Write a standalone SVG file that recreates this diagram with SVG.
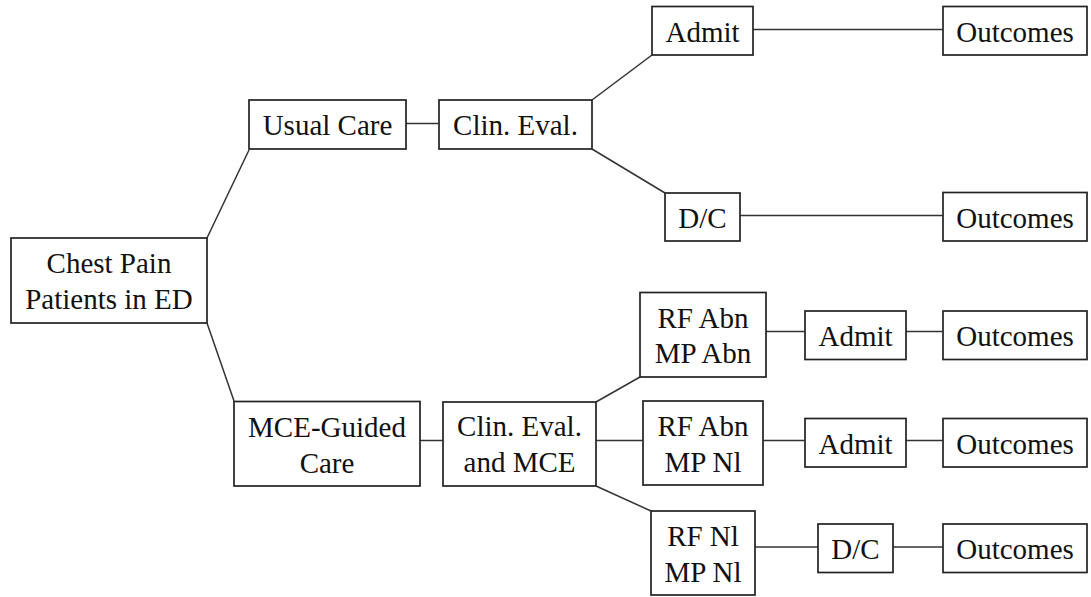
<svg xmlns="http://www.w3.org/2000/svg" width="1091" height="597" viewBox="0 0 1091 597">
<style>
rect{fill:#fff;stroke:#222;stroke-width:1.7}
text{font-family:"Liberation Serif","Times New Roman",serif;font-size:29px;fill:#111;text-anchor:middle}
#connectors line,#connectors polyline{stroke:#333;stroke-width:1.5;fill:none}
</style>
<rect x="0" y="0" width="1091" height="597" style="fill:#fff;stroke:none"/>
<g id="connectors">
<line x1="207" y1="238" x2="249" y2="150"/>
<line x1="207" y1="323" x2="234" y2="401"/>
<line x1="406" y1="123.5" x2="439" y2="123.5"/>
<line x1="592" y1="100" x2="652" y2="55"/>
<line x1="592" y1="149" x2="665" y2="193"/>
<line x1="753" y1="29.5" x2="943" y2="29.5"/>
<line x1="740" y1="215.5" x2="943" y2="215.5"/>
<line x1="420" y1="440.5" x2="443" y2="440.5"/>
<line x1="596" y1="402" x2="640" y2="377"/>
<line x1="596" y1="440.5" x2="643" y2="440.5"/>
<line x1="596" y1="486" x2="651" y2="511"/>
<line x1="766" y1="331.5" x2="805" y2="331.5"/>
<line x1="763" y1="440.5" x2="805" y2="440.5"/>
<line x1="753" y1="547" x2="818" y2="547"/>
<line x1="906" y1="331.5" x2="943" y2="331.5"/>
<line x1="906" y1="440.5" x2="943" y2="440.5"/>
<line x1="893" y1="547" x2="943" y2="547"/>
</g>
<g id="chest-pain"><rect x="11" y="238" width="196" height="85"/><text x="109" y="273">Chest Pain</text><text x="109" y="309">Patients in ED</text></g>
<g id="usual-care"><rect x="249" y="100" width="157" height="49"/><text x="327.5" y="135">Usual Care</text></g>
<g id="clin-eval"><rect x="439" y="100" width="153" height="49"/><text x="515.5" y="135">Clin. Eval.</text></g>
<g id="admit-top"><rect x="652" y="6.5" width="101" height="48.5"/><text x="702.5" y="41.5">Admit</text></g>
<g id="outcomes-1"><rect x="943" y="6.5" width="144" height="48.5"/><text x="1015" y="41.5">Outcomes</text></g>
<g id="dc-top"><rect x="665" y="193" width="75" height="48"/><text x="702.5" y="228">D/C</text></g>
<g id="outcomes-2"><rect x="943" y="192.5" width="144" height="48.5"/><text x="1015" y="227.5">Outcomes</text></g>
<g id="mce-guided"><rect x="234" y="401.5" width="186" height="84.5"/><text x="327" y="436.5">MCE-Guided</text><text x="327" y="472.5">Care</text></g>
<g id="clin-eval-mce"><rect x="443" y="402" width="153" height="84"/><text x="519.5" y="435.5">Clin. Eval.</text><text x="519.5" y="471.5">and MCE</text></g>
<g id="rf-abn-mp-abn"><rect x="640" y="292.5" width="126" height="84.5"/><text x="703" y="327.5">RF Abn</text><text x="703" y="363">MP Abn</text></g>
<g id="rf-abn-mp-nl"><rect x="643" y="401" width="120" height="84"/><text x="703" y="436">RF Abn</text><text x="703" y="472">MP Nl</text></g>
<g id="rf-nl-mp-nl"><rect x="651" y="511" width="104" height="84"/><text x="703" y="546">RF Nl</text><text x="703" y="582">MP Nl</text></g>
<g id="admit-1"><rect x="805" y="311" width="101" height="48.5"/><text x="855.5" y="346">Admit</text></g>
<g id="admit-2"><rect x="805" y="418.5" width="101" height="48.5"/><text x="855.5" y="453.5">Admit</text></g>
<g id="dc-bottom"><rect x="818" y="524" width="75" height="48.5"/><text x="855.5" y="559">D/C</text></g>
<g id="outcomes-3"><rect x="943" y="311" width="144" height="48.5"/><text x="1015" y="346">Outcomes</text></g>
<g id="outcomes-4"><rect x="943" y="418.5" width="144" height="48.5"/><text x="1015" y="453.5">Outcomes</text></g>
<g id="outcomes-5"><rect x="943" y="524" width="144" height="48.5"/><text x="1015" y="559">Outcomes</text></g>
</svg>
